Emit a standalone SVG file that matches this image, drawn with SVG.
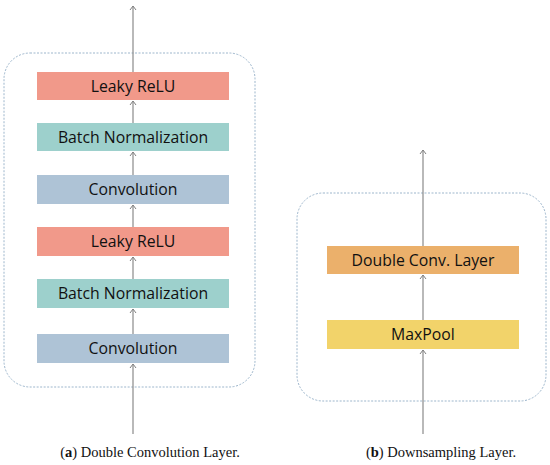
<svg xmlns="http://www.w3.org/2000/svg" width="550" height="465" viewBox="0 0 550 465">
<defs>
<marker id="ah" markerWidth="8" markerHeight="8" refX="7" refY="4" orient="auto" markerUnits="userSpaceOnUse" viewBox="0 0 8 8">
<path d="M3,1 L7,4 L3,7" fill="none" stroke="#7f7f7f" stroke-width="1"/>
</marker>
</defs>
<style>
.frame{fill:none;stroke:#9db6cc;stroke-width:1;stroke-dasharray:2 1.5}
.lbl{font-family:"Open Sans","Liberation Sans",sans-serif;font-size:15.8px;fill:#111;text-anchor:middle}
.cap{font-family:"Liberation Serif","Times New Roman",serif;font-size:14.5px;fill:#111;text-anchor:middle}
.relu{fill:#f1998a}
.bn{fill:#9dd0cc}
.conv{fill:#aec3d6}
.dcl{fill:#ebb06b}
.mp{fill:#f2d36a}
.conn line{stroke:#8a8a8a;stroke-width:1.2}
</style>
<rect class="frame" x="4" y="53" width="251" height="334" rx="26"/>
<rect class="frame" x="297" y="193" width="249" height="208" rx="26"/>
<g id="conn" class="conn">
<line x1="133" y1="72" x2="133" y2="6" marker-end="url(#ah)"/>
<line x1="133" y1="123" x2="133" y2="101" marker-end="url(#ah)"/>
<line x1="133" y1="175" x2="133" y2="152" marker-end="url(#ah)"/>
<line x1="133" y1="227" x2="133" y2="205" marker-end="url(#ah)"/>
<line x1="133" y1="279" x2="133" y2="257" marker-end="url(#ah)"/>
<line x1="133" y1="334" x2="133" y2="309" marker-end="url(#ah)"/>
<line x1="133" y1="434" x2="133" y2="364" marker-end="url(#ah)"/>
<line x1="423" y1="246" x2="423" y2="150" marker-end="url(#ah)"/>
<line x1="423" y1="320" x2="423" y2="275" marker-end="url(#ah)"/>
<line x1="423" y1="434" x2="423" y2="350" marker-end="url(#ah)"/>
</g>
<g id="relu2"><rect class="relu" x="37" y="72" width="192" height="28"/><text class="lbl" x="133" y="91.5">Leaky ReLU</text></g>
<g id="bn2"><rect class="bn" x="37" y="123" width="192" height="28"/><text class="lbl" x="133" y="142.5">Batch Normalization</text></g>
<g id="conv2"><rect class="conv" x="37" y="175" width="192" height="29"/><text class="lbl" x="133" y="195">Convolution</text></g>
<g id="relu1"><rect class="relu" x="37" y="227" width="192" height="29"/><text class="lbl" x="133" y="247">Leaky ReLU</text></g>
<g id="bn1"><rect class="bn" x="37" y="279" width="192" height="29"/><text class="lbl" x="133" y="299">Batch Normalization</text></g>
<g id="conv1"><rect class="conv" x="37" y="334" width="192" height="29"/><text class="lbl" x="133" y="354">Convolution</text></g>
<g id="dcl"><rect class="dcl" x="327" y="246" width="192" height="28"/><text class="lbl" x="423" y="265.5">Double Conv. Layer</text></g>
<g id="maxpool"><rect class="mp" x="327" y="320" width="192" height="29"/><text class="lbl" x="423" y="340">MaxPool</text></g>
<text class="cap" x="150" y="457">(<tspan font-weight="bold">a</tspan>) Double Convolution Layer.</text>
<text class="cap" x="441" y="457">(<tspan font-weight="bold">b</tspan>) Downsampling Layer.</text>
</svg>
